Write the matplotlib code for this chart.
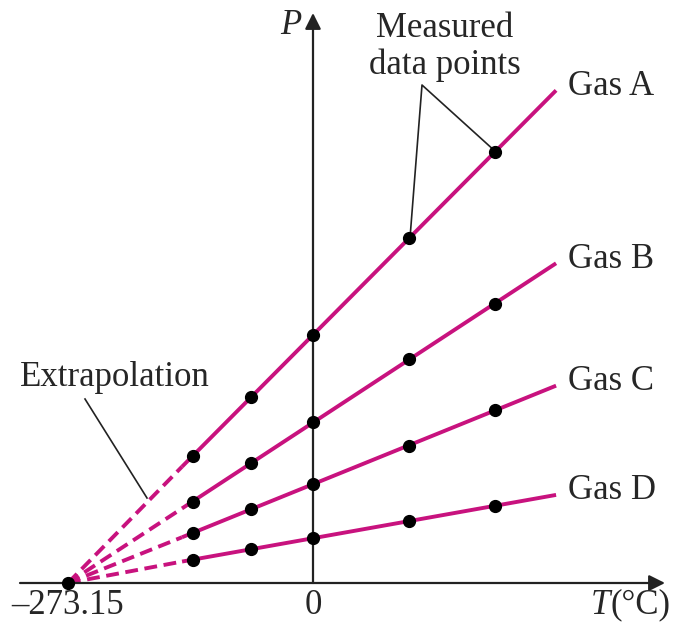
import matplotlib
matplotlib.use("Agg")
import matplotlib.pyplot as plt
import numpy as np

# measured data (T in deg C, P in arbitrary units)
T_abs = -273.15
temps = [-134, -69, 0, 107, 203]
gas_names = ["Gas A", "Gas B", "Gas C", "Gas D"]
P_A = [127, 186, 248, 345, 431]
P_B = [81, 120, 161, 224, 279]
P_C = [50, 74, 99, 137, 173]
P_D = [23, 34, 45, 62, 77]
pressures = [P_A, P_B, P_C, P_D]

T_solid_start = -146
T_end = 271

line_color = "#C8127E"
axis_color = "#222222"
text_color = "#262626"
fs = 25

plt.rcParams['font.family'] = ['Liberation Serif', 'DejaVu Serif']

K = 273.15 / 245.0  # deg C per pixel


def px(x, y):
    # pixel position in the 682x629 picture -> data coords
    return ((x - 313) * K, 583 - y)


fig = plt.figure(figsize=(6.82, 6.29), dpi=100)
ax = fig.add_axes([0, 0, 1, 1])
ax.axis('off')
x0, y0 = px(0, 629)
x1, y1 = px(682, 0)
ax.set_xlim(x0, x1)
ax.set_ylim(y0, y1)

# axes with arrows
ax.annotate("", xy=px(665, 583), xytext=px(20, 583),
            arrowprops=dict(arrowstyle='-|>', lw=1.6, color=axis_color,
                            mutation_scale=24, shrinkA=0, shrinkB=0))
ax.annotate("", xy=px(313, 13), xytext=px(313, 583),
            arrowprops=dict(arrowstyle='-|>', lw=1.6, color=axis_color,
                            mutation_scale=24, shrinkA=0, shrinkB=0))

# gas lines
for name, P in zip(gas_names, pressures):
    m, b = np.polyfit(temps, P, 1)
    p_start = m * T_solid_start + b
    p_end = m * T_end + b
    ax.plot([T_abs, T_solid_start], [0, p_start], color=line_color, lw=2.8,
            dashes=(3.3, 1.7), solid_capstyle='butt', zorder=2)
    ax.plot([T_solid_start, T_end], [p_start, p_end], color=line_color,
            lw=2.8, solid_capstyle='butt', zorder=2)
    ax.plot(temps, P, 'o', color='black', ms=8.5, zorder=3)
    ax.text(T_end + 12 * K, p_end + 4, name, fontsize=fs, ha='left',
            va='center', color=text_color)

ax.plot([T_abs], [0], 'o', color='black', ms=8.5, zorder=3)

# axis labels
ax.text(*px(68, 605), "\u2013273.15", fontsize=fs, ha='center', va='center',
        color=text_color)
ax.text(*px(313, 605), "0", fontsize=fs, ha='center', va='center',
        color=text_color)
ax.text(*px(610, 605), "T", fontsize=fs, style='italic', ha='right',
        va='center', color=text_color)
ax.text(*px(610, 605), "(\u00b0C)", fontsize=fs, ha='left', va='center',
        color=text_color)
ax.text(*px(291, 26), "P", fontsize=fs, style='italic', ha='center',
        va='center', color=text_color)

# annotations
ax.text(*px(445, 47), "Measured\ndata points", fontsize=fs, ha='center',
        va='center', linespacing=1.15, color=text_color)
ax.plot(*zip(px(410, 238), px(422, 85), px(496, 152)), color=axis_color,
        lw=1.2, zorder=1)
ax.text(*px(20, 378), "Extrapolation", fontsize=fs, ha='left', va='center',
        color=text_color)
ax.plot(*zip(px(85, 399), px(147, 498)), color=axis_color, lw=1.2, zorder=1)

fig.savefig("out.png", dpi=100)
